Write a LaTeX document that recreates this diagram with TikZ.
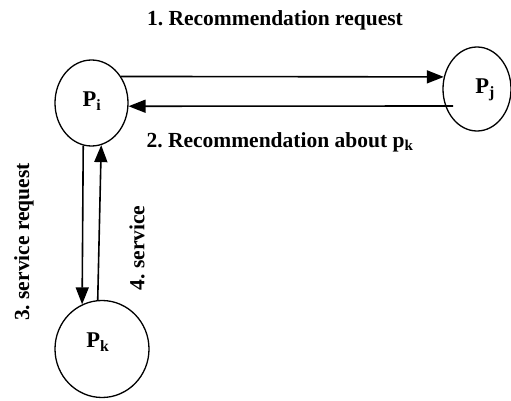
\documentclass[tikz,border=0pt]{standalone}
\usepackage{fontspec}
\setmainfont{Liberation Serif}
\usetikzlibrary{arrows.meta,shapes.geometric}
\frenchspacing
\begin{document}
\begin{tikzpicture}[x=1pt,y=-1pt,
  peer/.style={draw, ellipse, line width=1.3pt, inner sep=0pt},
  arr/.style={line width=1.6pt, -{Triangle[length=17pt,width=13pt]}},
  lbl/.style={font=\fontsize{21.5}{24}\selectfont\bfseries\frenchspacing, inner sep=0pt},
  ptxt/.style={font=\fontsize{22.5}{24}\selectfont\bfseries, inner sep=0pt}]
\useasboundingbox (0,0) rectangle (511,401);
\node[peer, minimum width=73pt, minimum height=86pt] (pi) at (91.5,103) {};
\node[peer, minimum width=68pt, minimum height=84pt] (pj) at (477,89) {};
\node[peer, minimum width=94pt, minimum height=97pt] (pk) at (102,349) {};
\node[ptxt] (ti) at (92,101) {P\textsubscript{i}};
\node[ptxt] (tj) at (485,90) {P\textsubscript{j}};
\node[ptxt] (tk) at (98,342) {P\textsubscript{k}};
\coordinate (s2) at (453,106);
\draw[arr] (pi.42) -- (pj.160);
\draw[arr] (s2) -- (pi.-5);
\draw[arr] (pi.-101) -- (pk.114);
\draw[arr] (pk.95) -- (pi.-77);
\node[lbl] (l1) at (275,20) {1. Recommendation request};
\node[lbl] (l2) at (280,142) {2. Recommendation about p\textsubscript{k}};
\node[lbl, rotate=90] (l3) at (24,242) {3. service request};
\node[lbl, rotate=90] (l4) at (137,248) {4. service};
\end{tikzpicture}
\end{document}
